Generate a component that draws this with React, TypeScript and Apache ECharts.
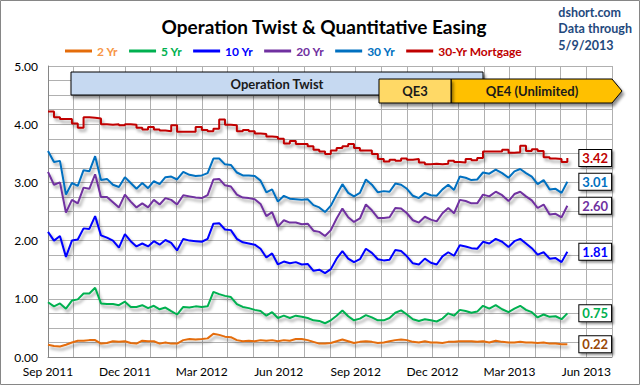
import React, { useEffect, useRef } from "react";
import * as echarts from "echarts";

// Weekly observations (Thursdays) from 2011-09-01 through 2013-05-09
const startDate = "2011-09-01";
const stepDays = 7;

const xTickLabels = ["Sep 2011", "Dec 2011", "Mar 2012", "Jun 2012", "Sep 2012", "Dec 2012", "Mar 2013", "Jun 2013"];

const yr2 = [
  0.21, 0.19, 0.18, 0.21, 0.25, 0.28, 0.28, 0.29, 0.29, 0.23, 0.24, 0.27, 0.26, 0.27, 0.24, 0.23, 0.28, 0.27,
  0.27, 0.23, 0.25, 0.23, 0.23, 0.29, 0.31, 0.30, 0.31, 0.32, 0.40, 0.38, 0.35, 0.34, 0.29, 0.27, 0.28, 0.27,
  0.29, 0.28, 0.29, 0.27, 0.29, 0.28, 0.31, 0.31, 0.29, 0.26, 0.23, 0.23, 0.24, 0.27, 0.30, 0.27, 0.24, 0.26,
  0.27, 0.26, 0.24, 0.25, 0.27, 0.29, 0.30, 0.29, 0.26, 0.25, 0.27, 0.25, 0.25, 0.24, 0.26, 0.26, 0.27, 0.27,
  0.27, 0.26, 0.27, 0.25, 0.28, 0.26, 0.25, 0.25, 0.26, 0.25, 0.25, 0.24, 0.25, 0.23, 0.23, 0.22, 0.22,
];
const yr5 = [
  0.94, 0.87, 0.92, 0.83, 0.97, 0.99, 1.09, 1.09, 1.19, 0.92, 0.91, 0.91, 0.89, 0.95, 0.86, 0.86, 0.89, 0.84,
  0.88, 0.82, 0.85, 0.79, 0.73, 0.86, 0.85, 0.87, 0.86, 0.87, 1.12, 1.08, 1.05, 1.03, 0.91, 0.86, 0.84, 0.81,
  0.79, 0.71, 0.77, 0.67, 0.71, 0.67, 0.71, 0.69, 0.67, 0.63, 0.62, 0.58, 0.63, 0.71, 0.80, 0.70, 0.63, 0.66,
  0.72, 0.68, 0.63, 0.63, 0.67, 0.76, 0.80, 0.73, 0.65, 0.62, 0.65, 0.63, 0.61, 0.66, 0.75, 0.71, 0.81, 0.79,
  0.76, 0.78, 0.88, 0.83, 0.89, 0.82, 0.77, 0.83, 0.88, 0.81, 0.77, 0.68, 0.73, 0.69, 0.70, 0.65, 0.75,
];
const yr10 = [
  2.15, 2.00, 2.08, 1.72, 2.00, 2.02, 2.21, 2.20, 2.42, 2.09, 2.05, 2.00, 1.88, 2.11, 1.99, 1.90, 1.95, 1.90,
  1.99, 1.93, 2.01, 1.96, 1.83, 2.03, 2.00, 1.99, 1.98, 2.03, 2.29, 2.30, 2.19, 2.18, 2.03, 1.97, 1.95, 1.93,
  1.86, 1.71, 1.78, 1.59, 1.64, 1.61, 1.63, 1.59, 1.60, 1.48, 1.50, 1.44, 1.51, 1.69, 1.82, 1.69, 1.63, 1.68,
  1.86, 1.79, 1.68, 1.66, 1.67, 1.84, 1.82, 1.73, 1.61, 1.59, 1.69, 1.62, 1.59, 1.73, 1.80, 1.74, 1.92, 1.90,
  1.87, 1.86, 1.98, 1.95, 2.03, 1.98, 1.89, 1.99, 2.03, 1.95, 1.87, 1.76, 1.80, 1.69, 1.70, 1.63, 1.81,
];
const yr20 = [
  3.18, 2.96, 3.00, 2.48, 2.70, 2.64, 2.91, 2.89, 3.14, 2.75, 2.75, 2.66, 2.57, 2.79, 2.67, 2.57, 2.64, 2.57,
  2.70, 2.62, 2.73, 2.70, 2.62, 2.78, 2.76, 2.74, 2.73, 2.78, 3.05, 3.06, 2.95, 2.93, 2.79, 2.74, 2.73, 2.71,
  2.63, 2.42, 2.49, 2.24, 2.35, 2.31, 2.31, 2.28, 2.29, 2.17, 2.15, 2.08, 2.18, 2.38, 2.55, 2.40, 2.32, 2.38,
  2.62, 2.52, 2.39, 2.39, 2.40, 2.56, 2.55, 2.47, 2.35, 2.31, 2.41, 2.36, 2.33, 2.47, 2.56, 2.47, 2.70, 2.68,
  2.64, 2.64, 2.79, 2.76, 2.84, 2.78, 2.68, 2.80, 2.84, 2.76, 2.69, 2.56, 2.62, 2.45, 2.46, 2.40, 2.60,
];
const yr30 = [
  3.54, 3.35, 3.37, 2.79, 2.99, 2.94, 3.21, 3.19, 3.45, 3.04, 3.06, 2.96, 2.92, 3.09, 2.99, 2.89, 2.99, 2.90,
  3.02, 2.97, 3.09, 3.10, 3.05, 3.18, 3.13, 3.11, 3.12, 3.16, 3.41, 3.41, 3.31, 3.30, 3.17, 3.12, 3.12, 3.11,
  3.03, 2.83, 2.88, 2.67, 2.77, 2.72, 2.71, 2.70, 2.71, 2.61, 2.57, 2.49, 2.60, 2.79, 2.97, 2.82, 2.76, 2.82,
  3.05, 2.96, 2.83, 2.85, 2.84, 2.98, 2.96, 2.89, 2.77, 2.73, 2.82, 2.78, 2.77, 2.88, 2.96, 2.87, 3.10, 3.08,
  3.04, 3.05, 3.17, 3.15, 3.22, 3.16, 3.08, 3.19, 3.23, 3.16, 3.10, 2.97, 3.04, 2.88, 2.89, 2.82, 3.01,
];
const mortgage30 = [
  4.22, 4.12, 4.09, 4.09, 4.01, 3.94, 4.12, 4.11, 4.10, 4.00, 3.99, 4.00, 3.98, 4.00, 3.99, 3.94, 3.91, 3.95,
  3.91, 3.89, 3.88, 3.98, 3.87, 3.87, 3.87, 3.95, 3.90, 3.88, 3.92, 4.08, 3.99, 3.98, 3.88, 3.90, 3.88, 3.84,
  3.83, 3.79, 3.78, 3.75, 3.67, 3.71, 3.66, 3.66, 3.62, 3.56, 3.53, 3.49, 3.55, 3.59, 3.62, 3.66, 3.59, 3.55,
  3.55, 3.49, 3.40, 3.36, 3.39, 3.37, 3.41, 3.39, 3.40, 3.34, 3.31, 3.32, 3.31, 3.32, 3.37, 3.35, 3.34, 3.40,
  3.38, 3.42, 3.53, 3.53, 3.53, 3.56, 3.51, 3.52, 3.63, 3.54, 3.57, 3.54, 3.43, 3.41, 3.40, 3.35, 3.42,
];

const seriesNames = ["2 Yr", "5 Yr", "10 Yr", "20 Yr", "30 Yr", "30-Yr Mortgage"];
const seriesValues = [yr2, yr5, yr10, yr20, yr30, mortgage30];
const seriesColors = ["#E46C0A", "#00B050", "#0000FF", "#7030A0", "#0070C0", "#C00000"];
const legendTextColors = ["#F79646", "#00B050", "#0000FF", "#7030A0", "#0070C0", "#C00000"];
const endLabelColors = ["#984807", "#00B050", "#0000FF", "#7030A0", "#0070C0", "#C00000"];

const FONT = "Lato, 'Open Sans', sans-serif";

// month index relative to Sep 1, 2011 (fractional)
function monthIndex(d: Date): number {
  const y = d.getUTCFullYear();
  const m = d.getUTCMonth();
  const day = d.getUTCDate();
  const dim = new Date(Date.UTC(y, m + 1, 0)).getUTCDate();
  return (y - 2011) * 12 + (m - 8) + (day - 1) / dim;
}

function buildPoints(vals: number[]): [number, number][] {
  const t0 = Date.parse(startDate + "T00:00:00Z");
  return vals.map((v, i) => [monthIndex(new Date(t0 + i * stepDays * 86400000)), v]);
}

export default function App() {
  const ref = useRef<HTMLDivElement>(null);
  useEffect(() => {
    document.body.style.margin = "0";
    if (!ref.current) return;
    const chart = echarts.init(ref.current, null, { renderer: "svg" });
    const shadow = { shadowColor: "rgba(0,0,0,0.35)", shadowBlur: 3, shadowOffsetX: 2, shadowOffsetY: 3 };

    const series = seriesNames.map((name, i) => ({
      name,
      type: "line",
      data: buildPoints(seriesValues[i]),
      showSymbol: false,
      symbol: "none",
      step: i === 5 ? "end" : undefined,
      lineStyle: { color: seriesColors[i], width: 2, ...shadow },
      itemStyle: { color: seriesColors[i] },
      z: 3,
      endLabel: {
        show: true,
        distance: 12,
        formatter: (p: any) => Number(p.value[1]).toFixed(2),
        color: endLabelColors[i],
        fontFamily: FONT,
        fontWeight: "bold",
        fontSize: 13,
        backgroundColor: "#ffffff",
        borderColor: "#000000",
        borderWidth: 1,
        padding: [2, 3, 1, 3],
        shadowColor: "rgba(0,0,0,0.4)",
        shadowBlur: 2,
        shadowOffsetX: 2,
        shadowOffsetY: 2,
      },
    }));

    const boxShadow = { shadowColor: "rgba(0,0,0,0.45)", shadowBlur: 3, shadowOffsetX: 2, shadowOffsetY: 3 };
    const boxText = {
      fontFamily: FONT,
      fontWeight: "bold",
      fontSize: 13,
      fill: "#1a1a1a",
      align: "center",
      verticalAlign: "middle",
    };

    chart.setOption({
      animation: false,
      backgroundColor: "#ffffff",
      title: {
        text: "Operation Twist & Quantitative Easing",
        left: 319,
        textAlign: "center",
        top: 12,
        textStyle: { fontFamily: FONT, fontWeight: "bold", fontSize: 19, color: "#000000" },
      },
      legend: {
        left: 60,
        top: 40,
        icon: "rect",
        itemWidth: 27,
        itemHeight: 3,
        itemGap: 11,
        textStyle: { fontFamily: FONT, fontWeight: "bold", fontSize: 12 },
        data: seriesNames.map((n, i) => ({ name: n, textStyle: { color: legendTextColors[i] } })),
      },
      grid: { left: 48, right: 28, top: 66, bottom: 28, containLabel: false },
      xAxis: {
        type: "value",
        min: 0,
        max: 22,
        interval: 1,
        axisLine: { show: true, lineStyle: { color: "#868686", width: 1 } },
        axisTick: { show: false },
        splitLine: { show: true, lineStyle: { color: "#B0B0B0", width: 1 } },
        axisLabel: {
          margin: 8,
          fontFamily: FONT,
          fontSize: 12,
          color: "#000000",
          showMaxLabel: false,
          formatter: (v: number) => {
            const r = Math.round(v);
            return r % 3 === 0 ? xTickLabels[r / 3] ?? "" : "";
          },
        },
      },
      yAxis: {
        type: "value",
        min: 0,
        max: 5,
        interval: 0.25,
        axisLine: { show: true, lineStyle: { color: "#868686", width: 1 } },
        axisTick: { show: false },
        splitLine: { show: true, lineStyle: { color: "#B0B0B0", width: 1 } },
        axisLabel: {
          margin: 10,
          fontFamily: FONT,
          fontSize: 12,
          color: "#000000",
          formatter: (v: number) => (Math.abs(v - Math.round(v)) < 1e-6 ? v.toFixed(2) : ""),
        },
      },
      graphic: [
        {
          type: "rect",
          shape: { x: 0.5, y: 0.5, width: 639, height: 384 },
          style: { fill: "none", stroke: "#868686", lineWidth: 1 },
          z: 0,
        },
        {
          type: "rect",
          z: 100,
          shape: { x: 71, y: 72, width: 412, height: 23 },
          style: { fill: "#C6D9F1", stroke: "#000000", lineWidth: 1, ...boxShadow },
        },
        {
          type: "text",
          z: 101,
          x: 277,
          y: 84,
          style: { text: "Operation Twist", ...boxText },
        },
        {
          type: "polygon",
          z: 102,
          shape: { points: [[451, 79], [612, 79], [622, 91], [612, 103], [451, 103]] },
          style: { fill: "#FFC000", stroke: "#000000", lineWidth: 1, ...boxShadow },
        },
        {
          type: "rect",
          z: 103,
          shape: { x: 379, y: 79, width: 72, height: 24 },
          style: { fill: "#FFD966", stroke: "#000000", lineWidth: 1, ...boxShadow },
        },
        {
          type: "text",
          z: 104,
          x: 415,
          y: 91,
          style: { text: "QE3", ...boxText },
        },
        {
          type: "text",
          z: 104,
          x: 532,
          y: 91,
          style: { text: "QE4 (Unlimited)", ...boxText },
        },
        {
          type: "text",
          right: 8,
          top: 4,
          z: 100,
          style: {
            text: "dshort.com\nData through\n5/9/2013",
            fontFamily: FONT,
            fontWeight: "bold",
            fontSize: 12.5,
            lineHeight: 16.5,
            fill: "#1F497D",
            align: "right",
          },
        },
      ],
      series,
    });
    return () => chart.dispose();
  }, []);
  return <div ref={ref} style={{ position: "absolute", left: 0, top: 0, width: 640, height: 385 }} />;
}
